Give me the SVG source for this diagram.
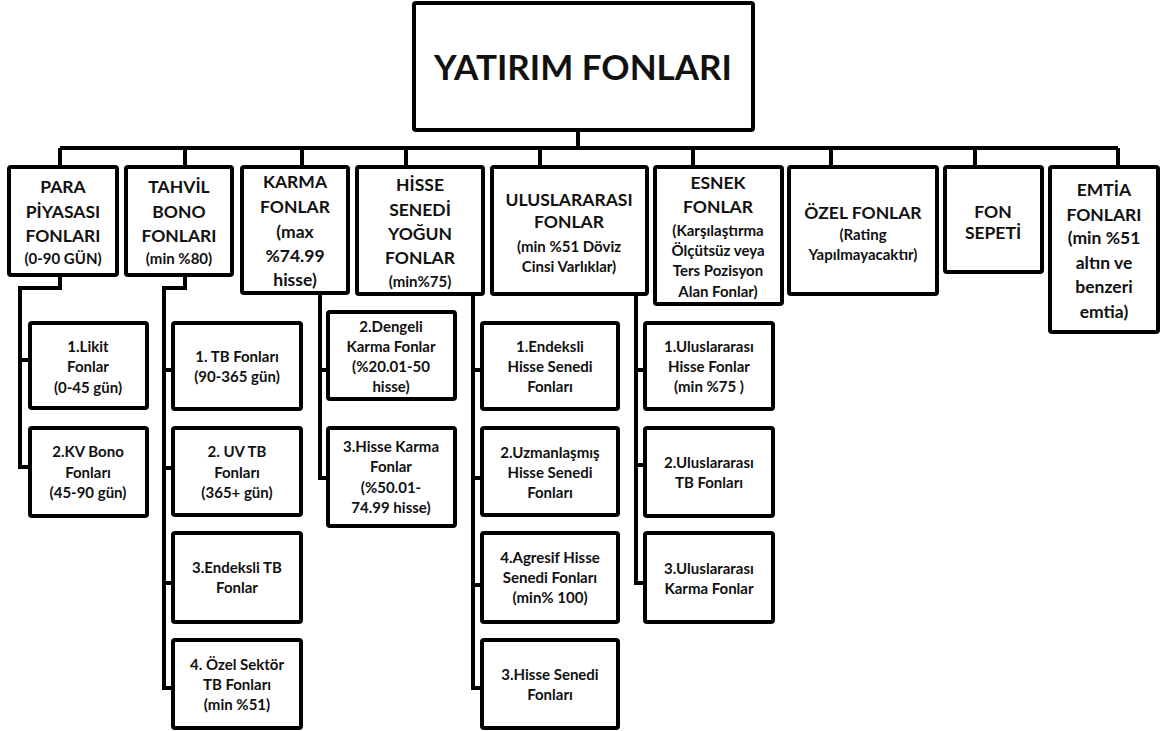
<svg xmlns="http://www.w3.org/2000/svg" width="1176" height="731" viewBox="0 0 1176 731">
<style>
rect{fill:#fff;stroke:#000;stroke-width:4}
text{font-family:Lato,"Liberation Sans",sans-serif;font-weight:bold;fill:#111;text-anchor:middle}
.t{font-size:35px}
.l{font-size:17.5px}
.s{font-size:15px}
#connectors path{fill:none;stroke:#000;stroke-width:4}
</style>
<rect width="1176" height="731" style="fill:#fff;stroke:none"/>
<g id="connectors">
<path d="M578,130V148M60,148H1118M60,148V167M185,148V167M302,148V167M406,148V167M540,148V167M693,148V167M831,148V167M975,148V167M1118,148V167"/>
<path d="M60,275V288H20V467H30M20,360H30"/>
<path d="M185,275V288H164V688H173M164,370H173M164,468H173M164,583H173"/>
<path d="M320,293V478H328M320,370H328"/>
<path d="M473,294V688H482M473,370H482M473,478H482M473,585H482"/>
<path d="M636,294V583H645M636,370H645M636,465H645"/>
</g>
<g id="root"><rect x="414" y="3" width="339" height="127" rx="2"/><text class="t" x="583" y="80">YATIRIM FONLARI</text></g>
<g id="para"><rect x="9" y="167" width="108" height="108" rx="2"/>
<text class="l" x="63"><tspan x="63" y="193">PARA</tspan><tspan x="63" y="218">PİYASASI</tspan><tspan x="63" y="242">FONLARI</tspan></text><text class="s" x="63" y="264">(0-90 GÜN)</text></g>
<g id="tahvil"><rect x="126" y="167" width="106" height="108" rx="2"/>
<text class="l"><tspan x="179" y="193">TAHVİL</tspan><tspan x="179" y="218">BONO</tspan><tspan x="179" y="242">FONLARI</tspan></text><text class="s" x="179" y="264">(min %80)</text></g>
<g id="karma"><rect x="242" y="167" width="106" height="126" rx="2"/>
<text class="l"><tspan x="295" y="188">KARMA</tspan><tspan x="295" y="213">FONLAR</tspan><tspan x="295" y="238">(max</tspan><tspan x="295" y="262">%74.99</tspan><tspan x="295" y="286">hisse)</tspan></text></g>
<g id="hisse"><rect x="357" y="167" width="126" height="127" rx="2"/>
<text class="l"><tspan x="420" y="191">HİSSE</tspan><tspan x="420" y="216">SENEDİ</tspan><tspan x="420" y="240">YOĞUN</tspan><tspan x="420" y="264">FONLAR</tspan></text><text class="s" x="420" y="287">(min%75)</text></g>
<g id="uluslararasi"><rect x="492" y="167" width="155" height="127" rx="2"/>
<text class="l"><tspan x="569" y="206">ULUSLARARASI</tspan><tspan x="569" y="228">FONLAR</tspan></text><text class="s"><tspan x="569" y="252">(min %51 Döviz</tspan><tspan x="569" y="272">Cinsi Varlıklar)</tspan></text></g>
<g id="esnek"><rect x="655" y="167" width="127" height="137" rx="2"/>
<text class="l"><tspan x="718" y="189">ESNEK</tspan><tspan x="718" y="213">FONLAR</tspan></text><text class="s"><tspan x="718" y="236">(Karşılaştırma</tspan><tspan x="718" y="256">Ölçütsüz veya</tspan><tspan x="718" y="276">Ters Pozisyon</tspan><tspan x="718" y="297">Alan Fonlar)</tspan></text></g>
<g id="ozel"><rect x="789" y="167" width="148" height="127" rx="2"/>
<text class="l" x="863" y="219">ÖZEL FONLAR</text><text class="s"><tspan x="863" y="240">(Rating</tspan><tspan x="863" y="260">Yapılmayacaktır)</tspan></text></g>
<g id="fonsepeti"><rect x="945" y="167" width="97" height="105" rx="2"/>
<text class="l"><tspan x="993" y="218">FON</tspan><tspan x="993" y="239">SEPETİ</tspan></text></g>
<g id="emtia"><rect x="1050" y="167" width="108" height="165" rx="2"/>
<text class="l"><tspan x="1104" y="196">EMTİA</tspan><tspan x="1104" y="221">FONLARI</tspan><tspan x="1104" y="244">(min %51</tspan><tspan x="1104" y="269">altın ve</tspan><tspan x="1104" y="293">benzeri</tspan><tspan x="1104" y="318">emtia)</tspan></text></g>
<g id="likit"><rect x="30" y="323" width="117" height="85" rx="2"/>
<text class="s"><tspan x="88" y="352">1.Likit</tspan><tspan x="88" y="372">Fonlar</tspan><tspan x="88" y="393">(0-45 gün)</tspan></text></g>
<g id="kvbono"><rect x="30" y="428" width="117" height="88" rx="2"/>
<text class="s"><tspan x="88" y="457">2.KV Bono</tspan><tspan x="88" y="478">Fonları</tspan><tspan x="88" y="498">(45-90 gün)</tspan></text></g>
<g id="tb1"><rect x="173" y="323" width="128" height="86" rx="2"/>
<text class="s"><tspan x="237" y="362">1. TB Fonları</tspan><tspan x="237" y="382">(90-365 gün)</tspan></text></g>
<g id="uvtb"><rect x="173" y="428" width="128" height="87" rx="2"/>
<text class="s"><tspan x="237" y="457">2. UV TB</tspan><tspan x="237" y="478">Fonları</tspan><tspan x="237" y="498">(365+ gün)</tspan></text></g>
<g id="endekslitb"><rect x="173" y="533" width="128" height="89" rx="2"/>
<text class="s"><tspan x="237" y="573">3.Endeksli TB</tspan><tspan x="237" y="593">Fonlar</tspan></text></g>
<g id="ozelsektor"><rect x="173" y="640" width="128" height="88" rx="2"/>
<text class="s"><tspan x="237" y="670">4. Özel Sektör</tspan><tspan x="237" y="690">TB Fonları</tspan><tspan x="237" y="710">(min %51)</tspan></text></g>
<g id="dengeli"><rect x="328" y="312" width="127" height="87" rx="2"/>
<text class="s"><tspan x="391" y="332">2.Dengeli</tspan><tspan x="391" y="352">Karma Fonlar</tspan><tspan x="391" y="372">(%20.01-50</tspan><tspan x="391" y="392">hisse)</tspan></text></g>
<g id="hissekarma"><rect x="328" y="428" width="127" height="98" rx="2"/>
<text class="s"><tspan x="391" y="452">3.Hisse Karma</tspan><tspan x="391" y="472">Fonlar</tspan><tspan x="391" y="493">(%50.01-</tspan><tspan x="391" y="513">74.99 hisse)</tspan></text></g>
<g id="endekslihisse"><rect x="482" y="323" width="136" height="86" rx="2"/>
<text class="s"><tspan x="550" y="352">1.Endeksli</tspan><tspan x="550" y="372">Hisse Senedi</tspan><tspan x="550" y="392">Fonları</tspan></text></g>
<g id="uzmanlasmis"><rect x="482" y="428" width="136" height="87" rx="2"/>
<text class="s"><tspan x="550" y="458">2.Uzmanlaşmış</tspan><tspan x="550" y="478">Hisse  Senedi</tspan><tspan x="550" y="498">Fonları</tspan></text></g>
<g id="agresif"><rect x="482" y="533" width="136" height="89" rx="2"/>
<text class="s"><tspan x="550" y="563">4.Agresif Hisse</tspan><tspan x="550" y="583">Senedi Fonları</tspan><tspan x="550" y="603">(min% 100)</tspan></text></g>
<g id="hissesenedi"><rect x="482" y="640" width="136" height="88" rx="2"/>
<text class="s"><tspan x="550" y="680">3.Hisse Senedi</tspan><tspan x="550" y="700">Fonları</tspan></text></g>
<g id="ulus1"><rect x="645" y="323" width="128" height="86" rx="2"/>
<text class="s"><tspan x="709" y="352">1.Uluslararası</tspan><tspan x="709" y="372">Hisse Fonlar</tspan><tspan x="709" y="392">(min %75 )</tspan></text></g>
<g id="ulus2"><rect x="645" y="428" width="128" height="88" rx="2"/>
<text class="s"><tspan x="709" y="468">2.Uluslararası</tspan><tspan x="709" y="488">TB  Fonları</tspan></text></g>
<g id="ulus3"><rect x="645" y="533" width="128" height="89" rx="2"/>
<text class="s"><tspan x="709" y="574">3.Uluslararası</tspan><tspan x="709" y="594">Karma Fonlar</tspan></text></g>
</svg>
